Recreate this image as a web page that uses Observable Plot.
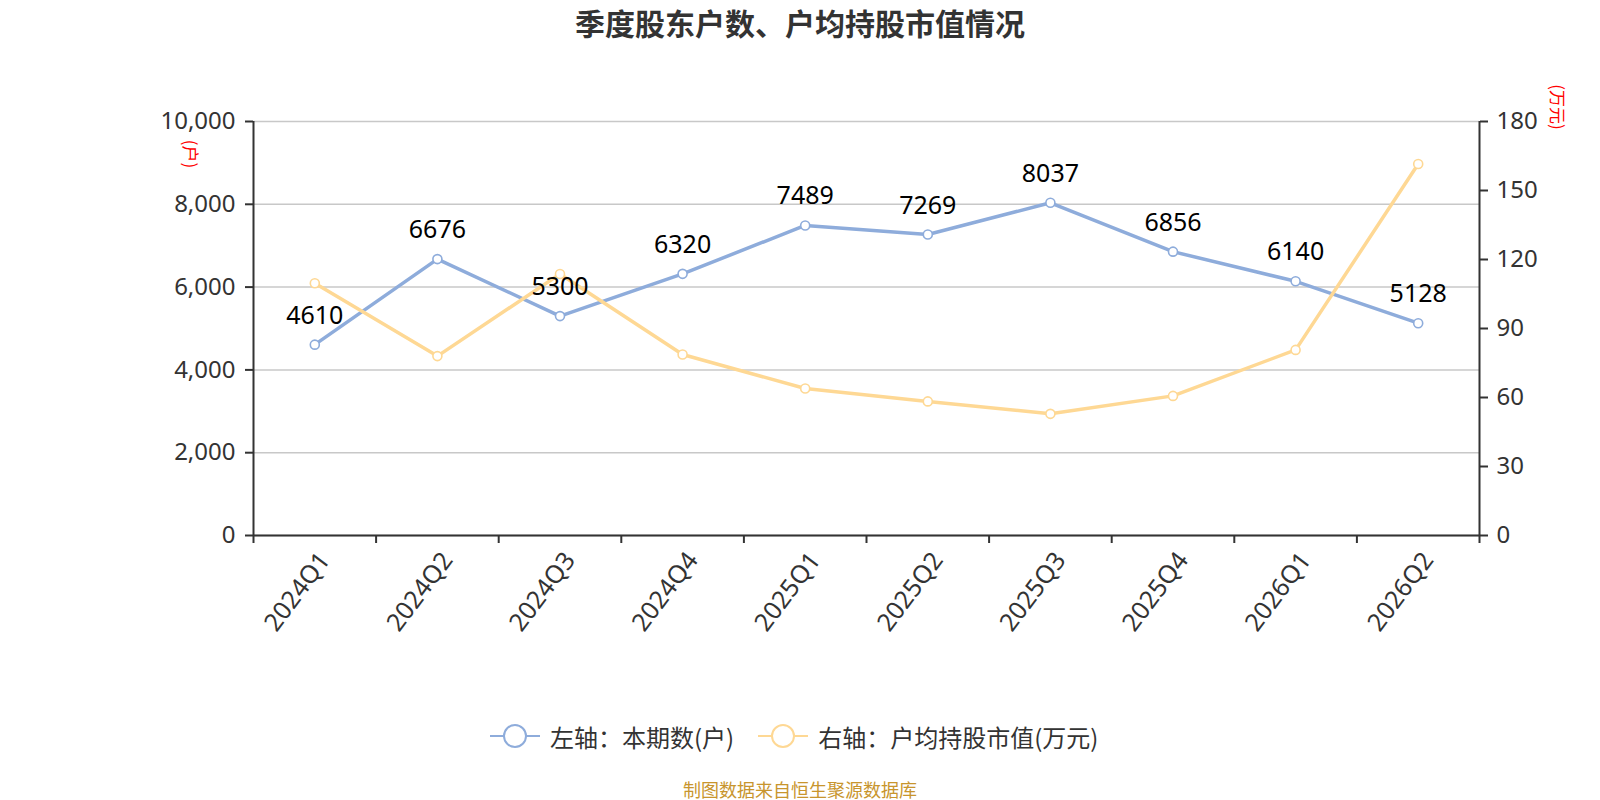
<!DOCTYPE html>
<html>
<head>
<meta charset="utf-8">
<script src="https://cdn.jsdelivr.net/npm/d3@7"></script>
<script src="https://cdn.jsdelivr.net/npm/@observablehq/plot@0.6"></script>
<style>
  html, body { margin:0; padding:0; background:#fff; width:1600px; height:800px; overflow:hidden; }
  body { position:relative; font-family: "Noto Sans", "Noto Sans CJK SC", sans-serif; }
  #title { position:absolute; left:0; top:0; width:1600px; height:45px; line-height:45px; text-align:center;
           font-family:"Noto Sans CJK SC", sans-serif; font-weight:bold; font-size:30px; color:#333; }
  #chart { position:absolute; left:0; top:45px; }
  .axlab { position:absolute; color:#ff0000; font-size:17px; font-family:"Noto Sans CJK SC", sans-serif;
           transform: translate(-50%,-50%) rotate(90deg); white-space:nowrap; line-height:1; }
  #legend { position:absolute; left:490px; top:721px; height:30px; display:flex; align-items:center;
            font-family:"Noto Sans CJK SC", sans-serif; font-size:24px; color:#333; }
  #legend .item { display:flex; align-items:center; margin-right:24px; }
  #legend svg { margin-right:10px; }
  #caption { position:absolute; left:0; top:776px; width:1600px; text-align:center; font-size:18px; line-height:26px;
             font-family:"Noto Sans CJK SC", sans-serif; color:#c8952d; }
</style>
</head>
<body>
<div id="title"></div>
<div id="chart"></div>
<div class="axlab" id="leftLab" style="left:191px; top:154px;"></div>
<div class="axlab" id="rightLab" style="left:1558px; top:107px;"></div>
<div id="legend"></div>
<div id="caption"></div>
<script>
const titleText = "季度股东户数、户均持股市值情况";
const captionText = "制图数据来自恒生聚源数据库";
const leftUnit = "(户)";
const rightUnit = "(万元)";
const seriesNames = ["左轴：本期数(户)", "右轴：户均持股市值(万元)"];
const seriesColors = ["#8eacdb", "#fed894"];

const quarters = ["2024Q1","2024Q2","2024Q3","2024Q4","2025Q1","2025Q2","2025Q3","2025Q4","2026Q1","2026Q2"];
const holders = [4610, 6676, 5300, 6320, 7489, 7269, 8037, 6856, 6140, 5128];
const avgValue = [109.7, 78.0, 113.7, 78.7, 63.9, 58.3, 52.9, 60.7, 80.7, 161.5];
const leftTicks = [0, 2000, 4000, 6000, 8000, 10000];
const rightTicks = [0, 30, 60, 90, 120, 150, 180];

const leftMax = 10000, rightMax = 180;
const k = leftMax / rightMax;

document.getElementById("title").textContent = titleText;
document.getElementById("caption").textContent = captionText;
document.getElementById("leftLab").textContent = leftUnit;
document.getElementById("rightLab").textContent = rightUnit;

const data = quarters.map((q, i) => ({q, i: i + 0.5, holders: holders[i], avg: avgValue[i], avgY: avgValue[i] * k}));
const bounds = d3.range(quarters.length + 1);

const chart = Plot.plot({
  width: 1600,
  height: 655,
  marginTop: 76,
  marginBottom: 165,
  marginLeft: 253,
  marginRight: 121,
  x: {domain: [0, quarters.length]},
  y: {domain: [0, leftMax]},
  style: {fontFamily: "'Noto Sans', 'Noto Sans CJK SC', sans-serif", fontSize: "24px", color: "#333", background: "#fff"},
  marks: [
    Plot.gridY(leftTicks, {stroke: "#c8c8c8", strokeOpacity: 1, strokeWidth: 1.5}),
    Plot.axisY(leftTicks, {anchor: "left", tickSize: 8, tickPadding: 10, tickFormat: d3.format(","), label: null, fontSize: 24, strokeWidth: 2, fill: "#333"}),
    Plot.axisY(rightTicks.map(v => v * k), {anchor: "right", tickSize: 8, tickPadding: 9, tickFormat: d => String(Math.round(d / k)), label: null, fontSize: 24, strokeWidth: 2, fill: "#333"}),
    Plot.axisX(bounds, {anchor: "bottom", tickSize: 8, tickFormat: () => "", label: null, strokeWidth: 2}),
    Plot.axisX(data.map(d => d.i), {anchor: "bottom", tickSize: 0, tickPadding: 20, tickRotate: -53, dx: 10, tickFormat: (d) => quarters[Math.floor(d)], label: null, fontSize: 25, fill: "#333"}),
    Plot.ruleX([0, quarters.length], {stroke: "#333", strokeWidth: 2}),
    Plot.ruleY([0], {stroke: "#333", strokeWidth: 2}),
    Plot.line(data, {x: "i", y: "holders", stroke: seriesColors[0], strokeWidth: 3.5}),
    Plot.line(data, {x: "i", y: "avgY", stroke: seriesColors[1], strokeWidth: 3.5}),
    Plot.dot(data, {x: "i", y: "holders", r: 4.5, fill: "#fff", stroke: seriesColors[0], strokeWidth: 1.6}),
    Plot.dot(data, {x: "i", y: "avgY", r: 4.5, fill: "#fff", stroke: seriesColors[1], strokeWidth: 1.6}),
    Plot.text(data, {x: "i", y: "holders", text: d => String(d.holders), dy: -21, lineAnchor: "bottom", fontSize: 25, fill: "#000"})
  ]
});
document.getElementById("chart").appendChild(chart);

const legend = document.getElementById("legend");
seriesNames.forEach((name, j) => {
  const item = document.createElement("div");
  item.className = "item";
  item.innerHTML = `<svg width="50" height="26" viewBox="0 0 50 26"><line x1="0" y1="13" x2="50" y2="13" stroke="${seriesColors[j]}" stroke-width="2"/><circle cx="25" cy="13" r="11" fill="#fff" stroke="${seriesColors[j]}" stroke-width="2"/></svg><span></span>`;
  item.querySelector("span").textContent = name;
  legend.appendChild(item);
});
</script>
</body>
</html>
